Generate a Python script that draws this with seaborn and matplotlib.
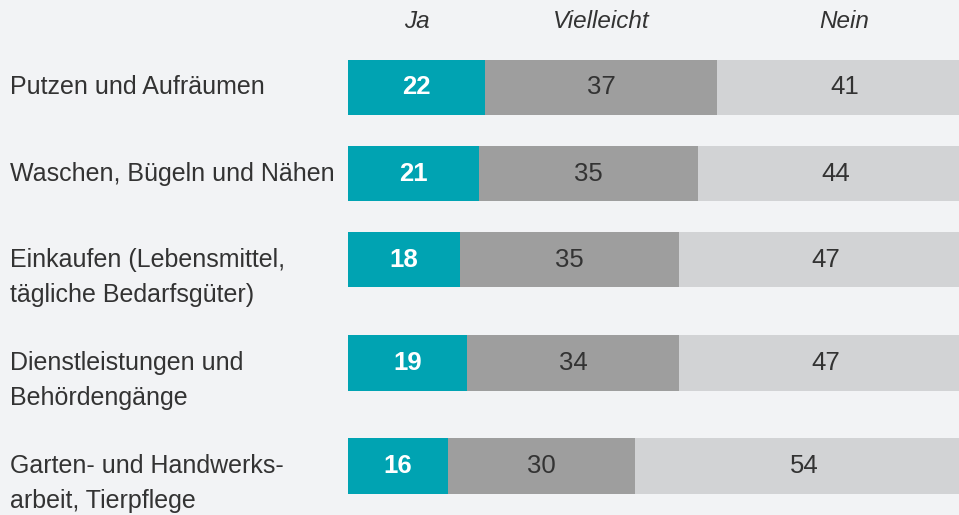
import numpy as np
import pandas as pd
import seaborn as sns
import matplotlib.pyplot as plt
import matplotlib.transforms as mtransforms

categories = [
    "Putzen und Aufräumen",
    "Waschen, Bügeln und Nähen",
    "Einkaufen (Lebensmittel,\ntägliche Bedarfsgüter)",
    "Dienstleistungen und\nBehördengänge",
    "Garten- und Handwerks-\narbeit, Tierpflege",
]
ja = [22, 21, 18, 19, 16]
vielleicht = [37, 35, 35, 34, 30]
nein = [41, 44, 47, 47, 54]
answers = ["Ja", "Vielleicht", "Nein"]

BG = "#f2f3f5"
TEAL = "#00a3b2"
MID = "#9e9e9e"
LIGHT = "#d2d3d5"
TEXT = "#333333"

sns.set_theme(style="white")
plt.rcParams["font.family"] = ["Liberation Sans", "DejaVu Sans"]

# row positions: multi-line labels push the next row down a bit
lines = [c.count("\n") + 1 for c in categories]
pos = [0.0]
for n in lines[:-1]:
    pos.append(pos[-1] + 1 + 0.2 * (n - 1))

df = pd.DataFrame({"cat": categories, "pos": pos, "ja": ja,
                   "vielleicht": vielleicht, "nein": nein})
df["cum2"] = df["ja"] + df["vielleicht"]
df["total"] = df["cum2"] + df["nein"]

fig = plt.figure(figsize=(9.59, 5.15), dpi=100, facecolor=BG)
ax = fig.add_axes([348 / 959, 0, 1 - 348 / 959, 1])
ax.set_facecolor(BG)

for col, c in [("total", LIGHT), ("cum2", MID), ("ja", TEAL)]:
    sns.barplot(data=df, x=col, y="pos", orient="h", native_scale=True,
                color=c, saturation=1, width=0.65, linewidth=0, ax=ax)

ax.set_xlim(0, 97.8)
ax.set_ylim(4.97, -1.017)
ax.axis("off")

# value labels
for _, r in df.iterrows():
    ax.text(r["ja"] / 2, r["pos"], str(r["ja"]), ha="center", va="center",
            color="white", fontsize=18.5, fontweight="bold")
    ax.text(r["ja"] + r["vielleicht"] / 2, r["pos"], str(r["vielleicht"]),
            ha="center", va="center", color=TEXT, fontsize=18.5)
    ax.text(r["cum2"] + r["nein"] / 2, r["pos"], str(r["nein"]),
            ha="center", va="center", color=TEXT, fontsize=18.5)

# column headers centred over the first row's segments
first = df.iloc[0]
centers = [first["ja"] / 2, first["ja"] + first["vielleicht"] / 2,
           first["cum2"] + first["nein"] / 2]
head_tr = mtransforms.blended_transform_factory(ax.transData, fig.transFigure)
for name, cx in zip(answers, centers):
    ax.text(cx, 1 - 22 / 515, name, transform=head_tr, ha="center",
            va="center", style="italic", color=TEXT, fontsize=17.5)

# category labels, first line centred on the bar
lab_tr = mtransforms.blended_transform_factory(fig.transFigure, ax.transData)
for cat, p in zip(categories, pos):
    for k, line in enumerate(cat.split("\n")):
        tr = mtransforms.offset_copy(lab_tr, fig=fig, y=-35 * k, units="dots")
        ax.text(10 / 959, p, line, transform=tr, ha="left", va="center",
                color=TEXT, fontsize=18)

fig.savefig("out.png", dpi=100, facecolor=BG)
